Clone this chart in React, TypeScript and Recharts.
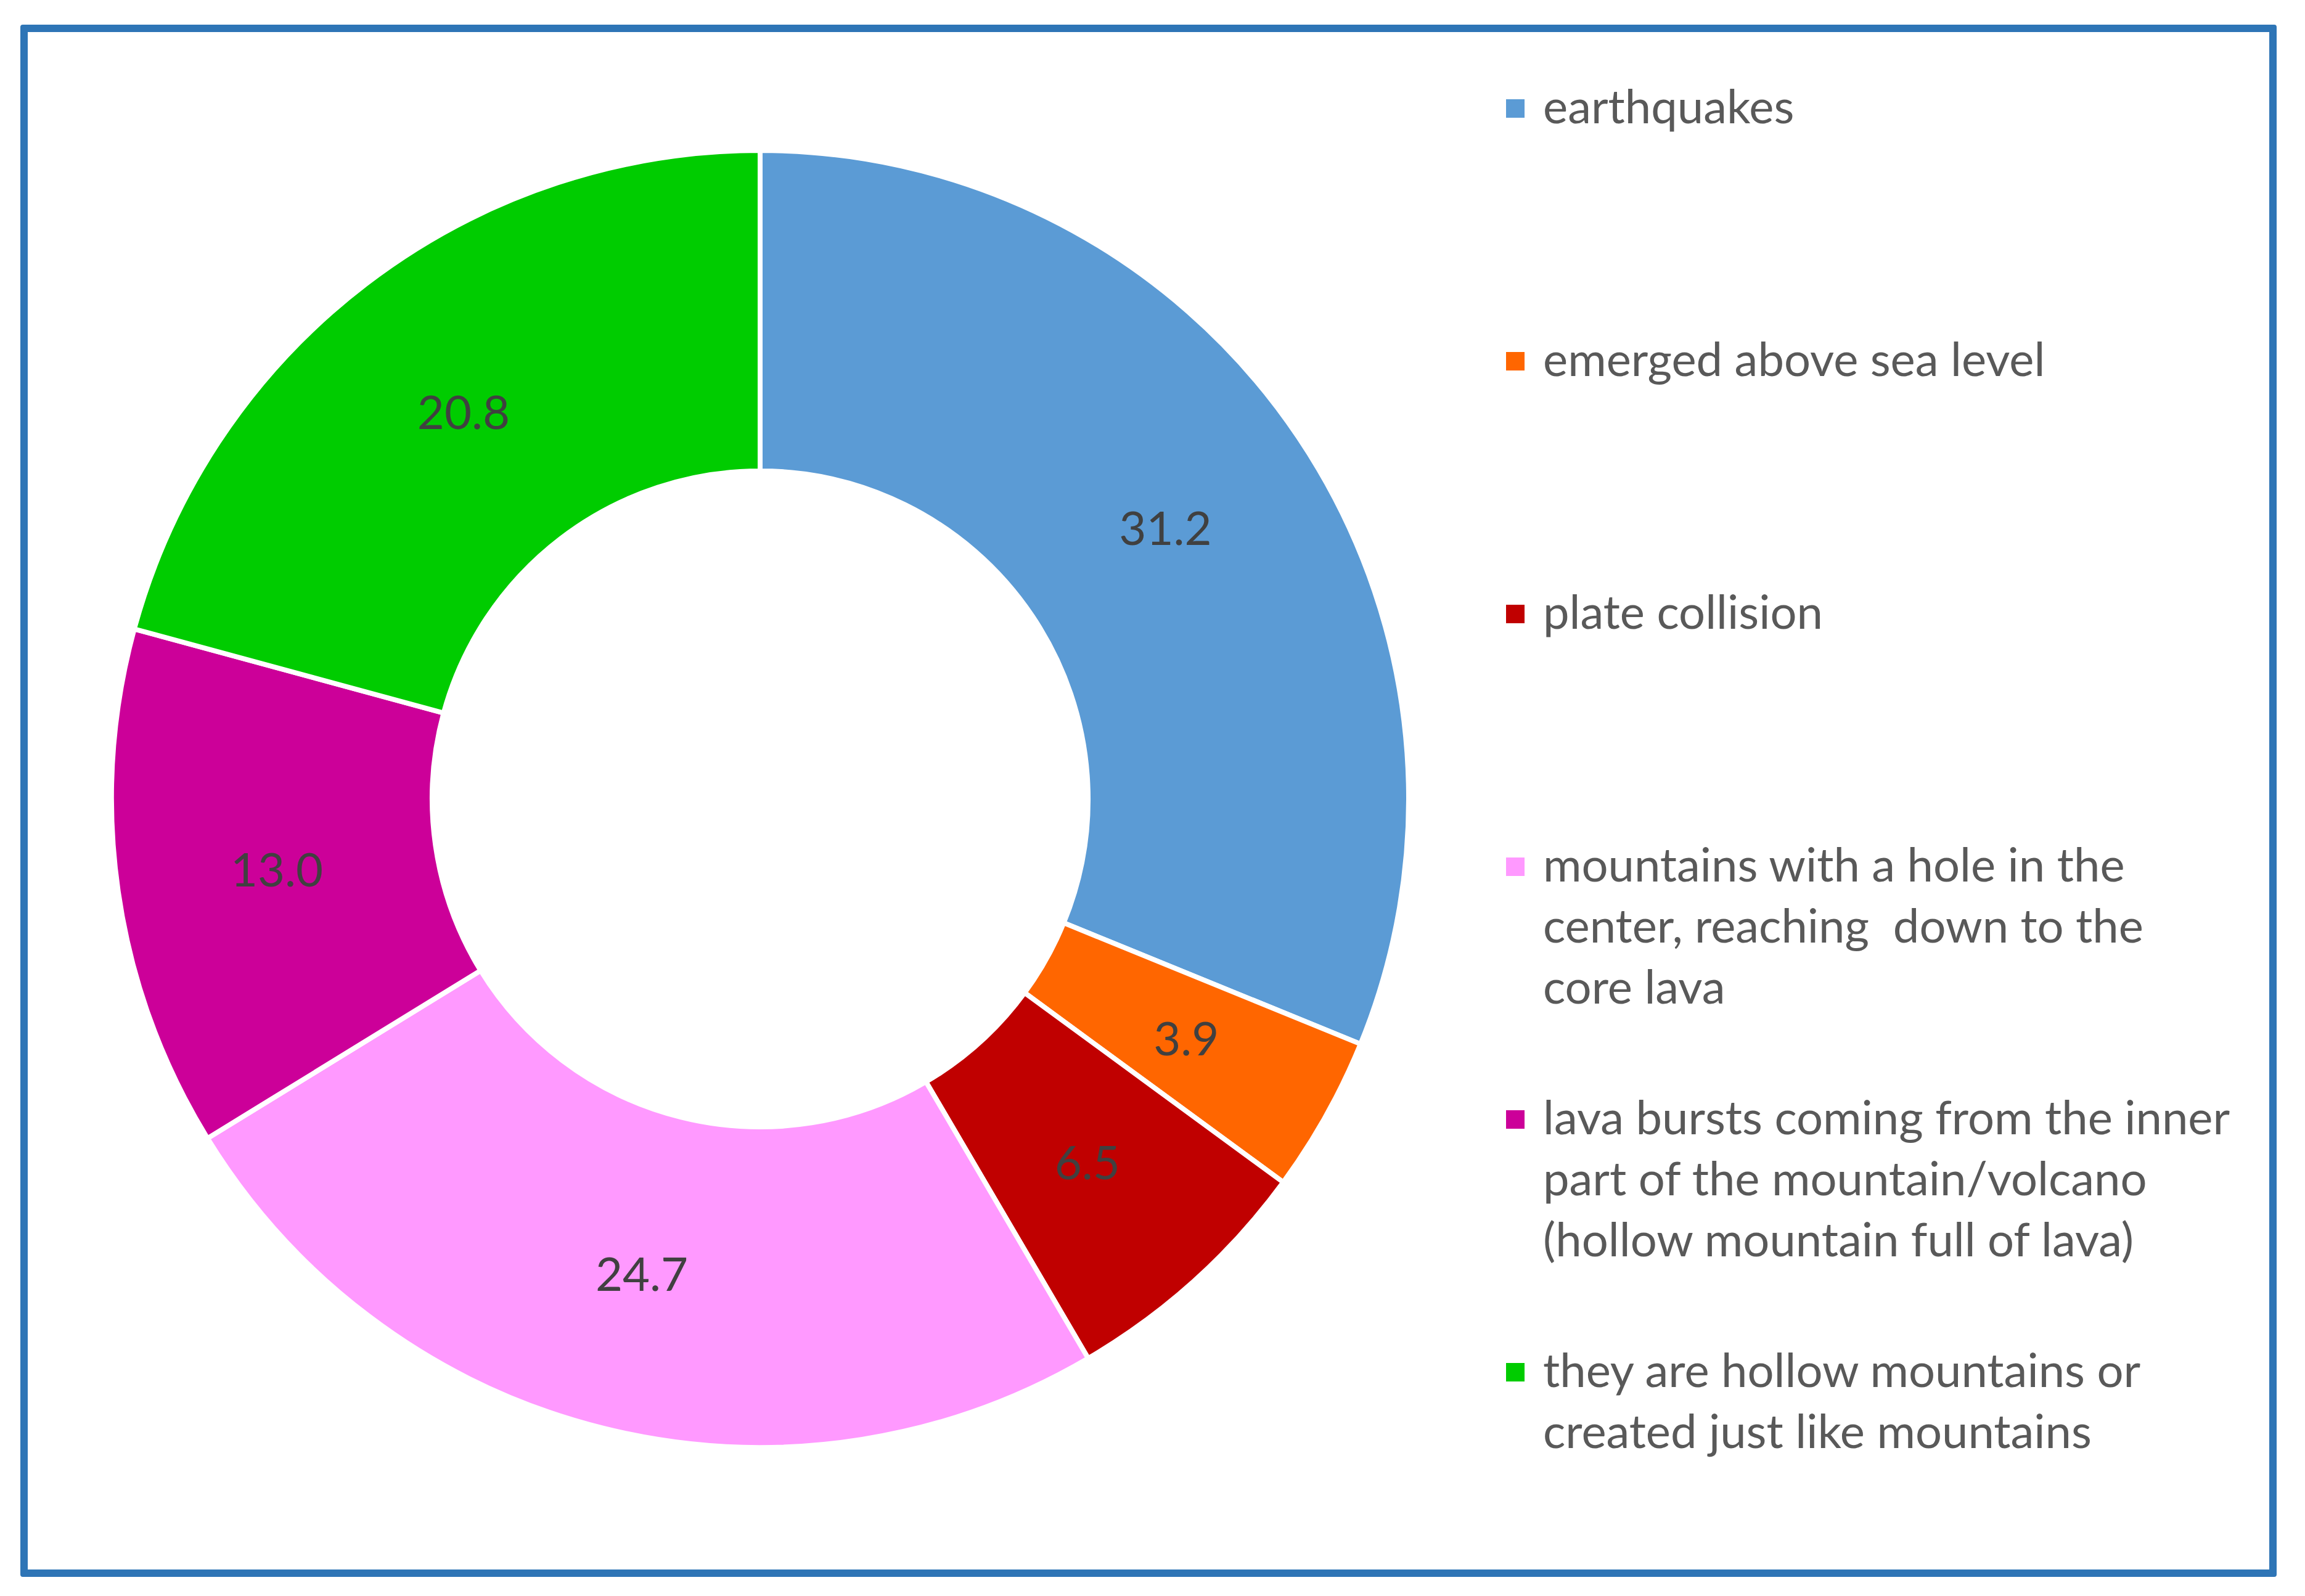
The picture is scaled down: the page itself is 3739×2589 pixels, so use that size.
import { PieChart, Pie, Cell, Legend } from 'recharts';

const CATEGORIES = [
    'earthquakes',
    'emerged above sea level',
    'plate collision',
    'mountains with a hole in the center, reaching  down to the core lava',
    'lava bursts coming from the inner part of the mountain/volcano (hollow mountain full of lava)',
    'they are hollow mountains or created just like mountains',
];
const VALUES = [31.2, 3.9, 6.5, 24.7, 13.0, 20.8];
const COLORS = ['#5B9BD5', '#FF6600', '#C00000', '#FF99FF', '#CC0099', '#00CC00'];

// legend text wrapped the way the original breaks it
const LEGEND_LINES = [
    ['earthquakes'],
    ['emerged above sea level'],
    ['plate collision'],
    ['mountains with a hole in the', 'center, reaching  down to the', 'core lava'],
    ['lava bursts coming from the inner', 'part of the mountain/volcano', '(hollow mountain full of lava)'],
    ['they are hollow mountains or', 'created just like mountains'],
];

const data = CATEGORIES.map((name, i) => ({ name, value: VALUES[i] }));

const FONT = 'Lato, "Open Sans", sans-serif';
const TEXT_COLOR = '#595959';
const RAD = Math.PI / 180;

const renderLabel = (props: any) => {
    const { cx, cy, midAngle, innerRadius, outerRadius, value } = props;
    const r = (innerRadius + outerRadius) / 2;
    const x = cx + r * Math.cos(-midAngle * RAD);
    const y = cy + r * Math.sin(-midAngle * RAD);
    return (
        <text
            x={x}
            y={y}
            fill="#404040"
            fontSize={76}
            fontFamily={FONT}
            textAnchor="middle"
            dominantBaseline="central"
        >
            {Number(value).toFixed(1)}
        </text>
    );
};

const renderLegend = () => (
    <div style={{ fontFamily: FONT, fontSize: 76, color: TEXT_COLOR }}>
        {LEGEND_LINES.map((lines, i) => (
            <div key={CATEGORIES[i]} style={{ height: 410, display: 'flex', alignItems: 'flex-start' }}>
                <div
                    style={{
                        width: 30,
                        height: 30,
                        marginTop: 40,
                        marginRight: 30,
                        flexShrink: 0,
                        backgroundColor: COLORS[i],
                    }}
                />
                <div style={{ lineHeight: '99px', whiteSpace: 'pre' }}>
                    {lines.map((l) => (
                        <div key={l}>{l}</div>
                    ))}
                </div>
            </div>
        ))}
    </div>
);

export default function App() {
    return (
        <div style={{ position: 'absolute', left: 0, top: 0, width: 3739, height: 2589, background: '#fff' }}>
            <div
                style={{
                    position: 'absolute',
                    left: 33,
                    top: 40,
                    width: 3660,
                    height: 2518,
                    boxSizing: 'border-box',
                    border: '12px solid #2E75B6',
                    borderRadius: 4,
                }}
            />
            <PieChart width={3739} height={2589} margin={{ top: 0, right: 0, bottom: 0, left: 0 }}>
                <Pie
                    data={data}
                    dataKey="value"
                    nameKey="name"
                    cx={1233}
                    cy={1296}
                    innerRadius={532}
                    outerRadius={1052}
                    startAngle={90}
                    endAngle={-270}
                    stroke="#ffffff"
                    strokeWidth={8}
                    label={renderLabel}
                    labelLine={false}
                    isAnimationActive={false}
                >
                    {data.map((entry, i) => (
                        <Cell key={entry.name} fill={COLORS[i]} />
                    ))}
                </Pie>
                <Legend
                    layout="vertical"
                    align="right"
                    verticalAlign="top"
                    content={renderLegend}
                    wrapperStyle={{ left: 2443, top: 121, width: 1240 }}
                />
            </PieChart>
        </div>
    );
}
